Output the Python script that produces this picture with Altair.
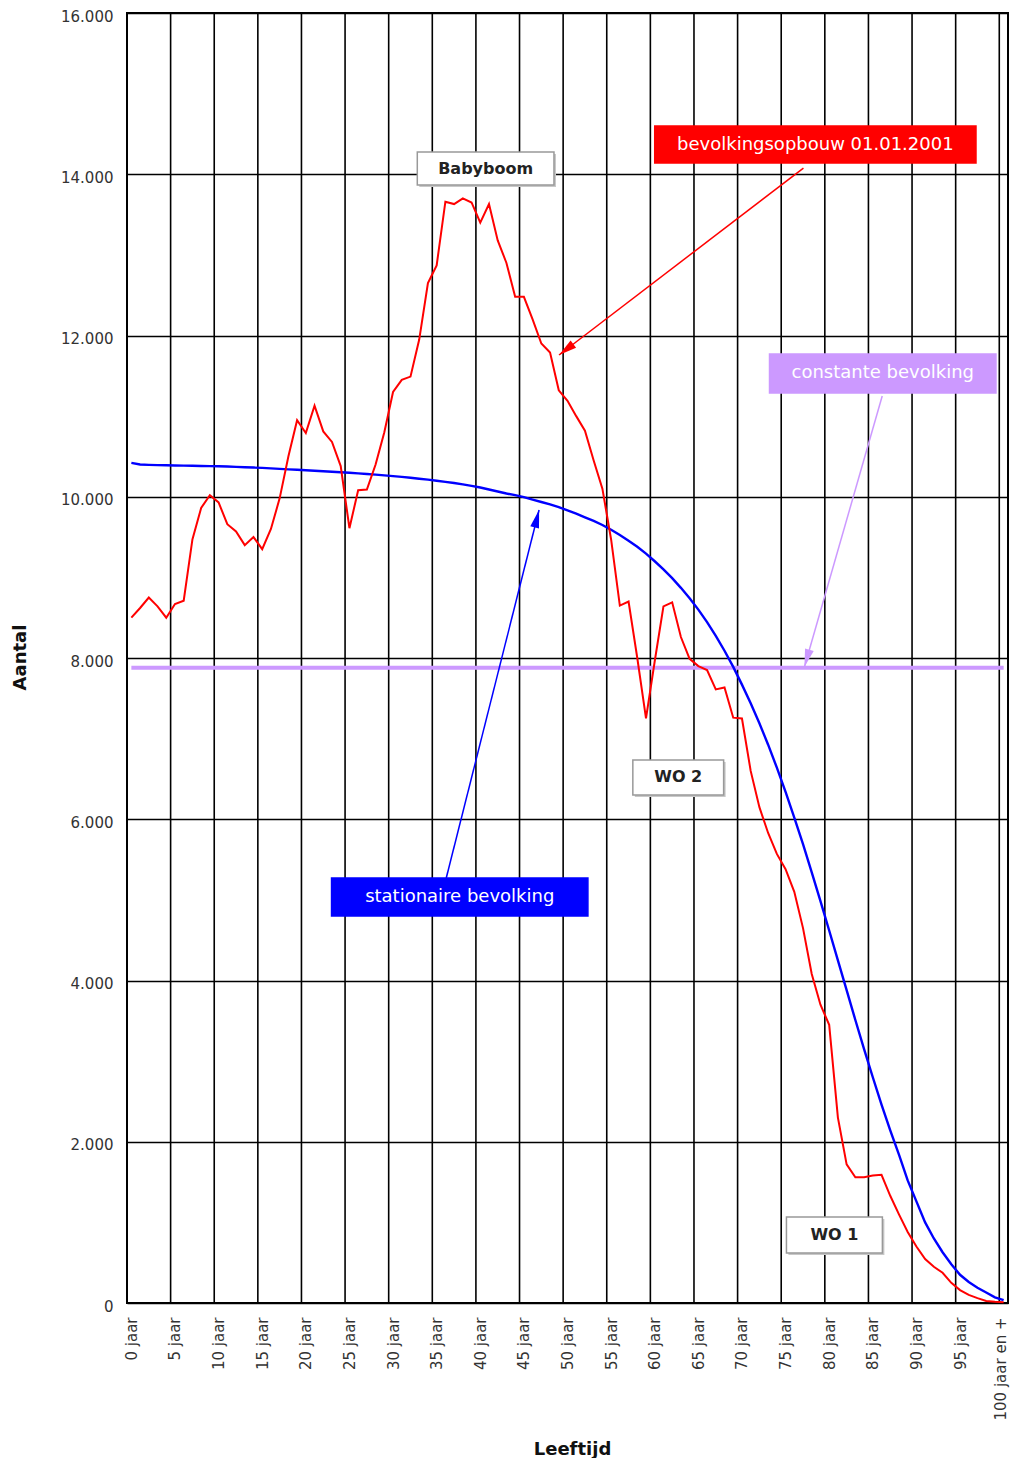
import math
import altair as alt
import pandas as pd

# ---------------- data ----------------
ages = list(range(0, 101))

# bevolkingsopbouw 01.01.2001 (red)
red_values = [
    8500, 8620, 8750, 8640, 8500, 8670, 8710, 9470, 9860, 10020,
    9930, 9660, 9570, 9400, 9500, 9350, 9600, 9980, 10500, 10950,
    10790, 11130, 10810, 10680, 10380, 9610, 10080, 10090, 10400, 10800,
    11300, 11450, 11490, 11950, 12650, 12870, 13660, 13630, 13700, 13650,
    13400, 13630, 13180, 12900, 12480, 12480, 12200, 11900, 11790, 11320,
    11190, 11000, 10820, 10450, 10100, 9470, 8650, 8700, 8000, 7250,
    7960, 8640, 8690, 8260, 7990, 7900, 7850, 7610, 7635, 7260,
    7250, 6600, 6150, 5830, 5570, 5380, 5100, 4650, 4080, 3700,
    3450, 2300, 1720, 1560, 1560, 1580, 1590, 1330, 1100, 880,
    700, 545, 450, 375, 250, 160, 100, 60, 25, 15,
    10,
]

# stationaire bevolking (blue)
blue_values = [
    10420, 10400, 10395, 10392, 10390, 10388, 10386, 10384, 10382, 10380,
    10378, 10375, 10370, 10366, 10362, 10358, 10352, 10346, 10340, 10334,
    10328, 10322, 10316, 10310, 10304, 10297, 10290, 10282, 10274, 10265,
    10256, 10246, 10235, 10224, 10212, 10199, 10185, 10170, 10153, 10135,
    10115, 10090, 10065, 10040, 10020, 9995, 9965, 9935, 9905, 9870,
    9830, 9790, 9745, 9700, 9650, 9590, 9525, 9455, 9380, 9295,
    9200, 9100, 8990, 8870, 8740, 8600, 8445, 8275, 8090, 7890,
    7670, 7440, 7190, 6925, 6640, 6340, 6020, 5690, 5340, 4985,
    4620, 4250, 3880, 3510, 3150, 2800, 2460, 2140, 1840, 1520,
    1260, 1000, 800, 630, 480, 350, 260, 190, 130, 70,
    35,
]

# constante bevolking (purple)
constant_value = 7880

tick_ages = list(range(0, 101, 5))
y_ticks = list(range(0, 16001, 2000))
grid_bounds = [a - 0.5 for a in range(5, 101, 5)]

# annotation boxes (data coordinates: age, aantal)
box_text = ["bevolkingsopbouw 01.01.2001", "Babyboom", "constante bevolking",
            "stationaire bevolking", "WO 2", "WO 1"]
box_x1 = [60.0, 32.78, 73.16, 22.95, 57.49, 75.1]
box_x2 = [96.83, 48.45, 99.12, 52.34, 67.9, 86.1]
box_y1 = [14139, 13866, 11287, 4800, 6301, 620]
box_y2 = [14598, 14276, 11771, 5271, 6735, 1067]
box_fill = ["#ff0000", "#ffffff", "#cc99ff", "#0000ff", "#ffffff", "#ffffff"]
box_stroke = ["#ff0000", "#999999", "#cc99ff", "#0000ff", "#999999", "#999999"]
box_textcolor = ["#ffffff", "#222222", "#ffffff", "#ffffff", "#222222", "#222222"]
box_bold = [False, True, False, False, True, True]

# arrows
arrow_from_age = [77.05, 86.08, 36.1]
arrow_from_val = [14077, 11250, 5271]
arrow_to_age = [49.03, 77.16, 46.74]
arrow_to_val = [11758, 7888, 9836]
arrow_color = ["#ff0000", "#cc99ff", "#0000ff"]

# ---------------- chart ----------------
W, H = 881, 1290
FONT = "DejaVu Sans"

x_scale = alt.Scale(domain=[-0.5, 100.5], nice=False, zero=False)
y_scale = alt.Scale(domain=[0, 16000], nice=False, zero=True)

x_axis = alt.Axis(
    values=tick_ages,
    labelExpr="datum.value == 100 ? '100 jaar en +' : datum.value + ' jaar'",
    labelAngle=270, labelFont=FONT, labelFontSize=15, labelColor="#333333",
    labelPadding=14, labelOverlap=False, labelFlush=False, labelBound=False,
    labelOffset=alt.condition("datum.value == 100", alt.value(-3), alt.value(0)),
    ticks=False, domain=False, grid=False,
    title="Leeftijd", titleFont=FONT, titleFontSize=18, titleFontWeight="bold",
    titleColor="#111111", titleX=445, titleY=146, titleAlign="center",
    titleBaseline="middle",
)
y_axis = alt.Axis(
    values=y_ticks,
    labelExpr="replace(format(datum.value, ','), ',', '.')",
    labelFont=FONT, labelFontSize=15, labelColor="#333333", labelPadding=14,
    labelOffset=3, labelFlush=False, labelBound=False,
    ticks=False, domain=False, grid=True, gridColor="#000000", gridWidth=1.6,
    gridOpacity=1,
    title="Aantal", titleFont=FONT, titleFontSize=18, titleFontWeight="bold",
    titleColor="#111111", titleAngle=270, titleX=-107, titleY=644,
    titleAlign="center", titleBaseline="middle",
)


def X(field):
    return alt.X(field, type="quantitative", scale=x_scale, axis=x_axis)


def Y(field):
    return alt.Y(field, type="quantitative", scale=y_scale, axis=y_axis)


series_df = pd.DataFrame({
    "age": ages,
    "red": red_values,
    "blue": blue_values,
    "const": [constant_value] * len(ages),
})

grid_df = pd.DataFrame({"gx": grid_bounds})
grid_layer = alt.Chart(grid_df).mark_rule(color="#000000", strokeWidth=1.6).encode(
    x=X("gx")
)

purple_layer = alt.Chart(series_df).mark_line(color="#cc99ff", strokeWidth=4).encode(
    x=X("age"), y=Y("const")
)
blue_layer = alt.Chart(series_df).mark_line(color="#0000ff", strokeWidth=2.4).encode(
    x=X("age"), y=Y("blue")
)
red_layer = alt.Chart(series_df).mark_line(color="#ff0000", strokeWidth=2).encode(
    x=X("age"), y=Y("red")
)

# arrows
angles = []
for fa, fv, ta, tv in zip(arrow_from_age, arrow_from_val, arrow_to_age, arrow_to_val):
    dxp = (ta - fa) * W / 101.0
    dyp = -(tv - fv) * H / 16000.0
    angles.append((math.degrees(math.atan2(dxp, -dyp)) + 360) % 360)

arrow_df = pd.DataFrame({
    "fa": arrow_from_age, "fv": arrow_from_val,
    "ta": arrow_to_age, "tv": arrow_to_val,
    "col": arrow_color, "ang": angles,
})
arrow_lines = alt.Chart(arrow_df).mark_rule(strokeWidth=1.5).encode(
    x=X("fa"), y=Y("fv"), x2="ta", y2="tv",
    color=alt.Color("col:N", scale=None),
)
arrow_heads = alt.Chart(arrow_df).mark_point(
    shape="M0,0 L0.45,1.8 L-0.45,1.8 Z", size=400, filled=True, opacity=1
).encode(
    x=X("ta"), y=Y("tv"),
    color=alt.Color("col:N", scale=None),
    angle=alt.Angle("ang:Q", scale=None),
)

box_df = pd.DataFrame({
    "text": box_text, "x1": box_x1, "x2": box_x2, "y1": box_y1, "y2": box_y2,
    "fill": box_fill, "stroke": box_stroke, "tcol": box_textcolor, "bold": box_bold,
    "cx": [(a + b) / 2 for a, b in zip(box_x1, box_x2)],
    "cy": [(a + b) / 2 for a, b in zip(box_y1, box_y2)],
})
white_boxes = box_df[box_df["bold"]]
color_boxes = box_df[~box_df["bold"]]

shadow_layer = alt.Chart(white_boxes).mark_rect(
    color="#c8c8c8", xOffset=2, yOffset=2, x2Offset=2, y2Offset=2
).encode(x=X("x1"), x2="x2", y=Y("y1"), y2="y2")

box_layer = alt.Chart(box_df).mark_rect(strokeWidth=1.5).encode(
    x=X("x1"), x2="x2", y=Y("y1"), y2="y2",
    fill=alt.Fill("fill:N", scale=None),
    stroke=alt.Stroke("stroke:N", scale=None),
)

text_bold = alt.Chart(white_boxes).mark_text(
    font=FONT, fontSize=16, fontWeight="bold", align="center", baseline="middle"
).encode(
    x=X("cx"), y=Y("cy"), text="text:N", color=alt.Color("tcol:N", scale=None)
)
text_normal = alt.Chart(color_boxes).mark_text(
    font=FONT, fontSize=18, align="center", baseline="middle"
).encode(
    x=X("cx"), y=Y("cy"), text="text:N", color=alt.Color("tcol:N", scale=None)
)

chart = alt.layer(
    grid_layer, purple_layer, blue_layer, red_layer,
    arrow_lines, arrow_heads, shadow_layer, box_layer, text_bold, text_normal,
).properties(
    width=W, height=H,
    padding={"left": 119, "top": 5, "right": 3, "bottom": 155},
    autosize=alt.AutoSizeParams(type="none"),
    background="#ffffff",
).configure_view(
    stroke="#000000", strokeWidth=2
)

chart.save("out.html", embed_options={"renderer": "svg", "actions": False})
